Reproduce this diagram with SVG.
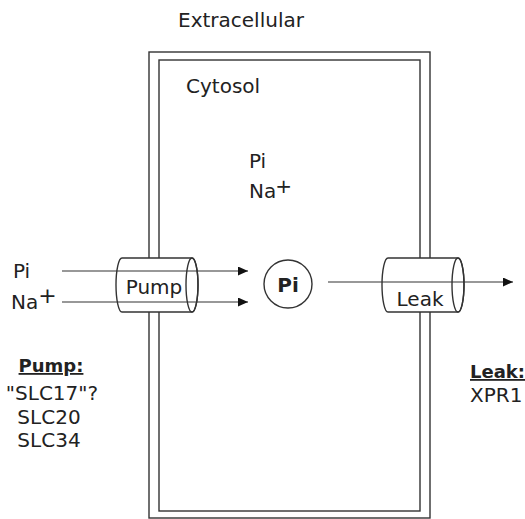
<svg xmlns="http://www.w3.org/2000/svg" width="525" height="519" viewBox="0 0 525 519">
<style>
text{font-family:"DejaVu Sans","Liberation Sans",sans-serif;font-size:20px;fill:#222}
.b{font-weight:bold;text-decoration:underline;font-size:18px}
.ln{fill:none;stroke:#333;stroke-width:1.4}
.cyl{fill:#fff;stroke:#333;stroke-width:1.4}
.arr{fill:none;stroke:#333;stroke-width:1.2;marker-end:url(#ah)}
</style>
<defs>
<marker id="ah" markerWidth="12" markerHeight="10" refX="10" refY="4.5" orient="auto" markerUnits="userSpaceOnUse">
<path d="M0,0 L10,4.5 L0,9 Z" fill="#111"/>
</marker>
</defs>
<rect width="525" height="519" fill="#fff"/>
<g id="membrane">
<rect class="ln" x="149" y="52" width="281" height="466"/>
<rect class="ln" x="159" y="60" width="261" height="451"/>
</g>
<g id="labels">
<text x="178" y="27">Extracellular</text>
<text x="186" y="93">Cytosol</text>
<text x="249" y="168">Pi</text>
<text x="249" y="198">Na<tspan dx="-1" dy="-5.5" font-size="20">+</tspan></text>
<text x="13" y="278">Pi</text>
<text x="11" y="309">Na<tspan dx="0" dy="-6" font-size="22">+</tspan></text>
</g>
<g id="pump">
<path class="cyl" d="M122,258 L192,258 A6,27 0 0 1 192,312 L122,312 A6,27 0 0 1 122,258 Z"/>
<ellipse class="ln" cx="192" cy="285" rx="6" ry="27"/>
</g>
<g id="leak">
<path class="cyl" d="M388,258 L458,258 A6,27 0 0 1 458,312 L388,312 A6,27 0 0 1 388,258 Z"/>
<ellipse class="ln" cx="458" cy="285" rx="6" ry="27"/>
</g>
<g id="pi-node">
<circle class="ln" cx="288" cy="284" r="24" fill="#fff"/>
<text x="288" y="292" text-anchor="middle" font-weight="bold">Pi</text>
</g>
<g id="connectors">
<line class="arr" x1="62" y1="271" x2="248" y2="271"/>
<line class="arr" x1="62" y1="302" x2="248" y2="302"/>
<line class="arr" x1="328" y1="282" x2="513" y2="282"/>
</g>
<g id="channel-labels">
<text x="154" y="294" text-anchor="middle">Pump</text>
<text x="420" y="306" text-anchor="middle">Leak</text>
</g>
<g id="pump-list">
<text class="b" x="51" y="372" text-anchor="middle">Pump:</text>
<text x="52" y="400" text-anchor="middle">"SLC17"?</text>
<text x="49" y="424" text-anchor="middle">SLC20</text>
<text x="49" y="447" text-anchor="middle">SLC34</text>
</g>
<g id="leak-list">
<text class="b" x="470" y="378">Leak:</text>
<text x="470" y="402">XPR1</text>
</g>
</svg>
